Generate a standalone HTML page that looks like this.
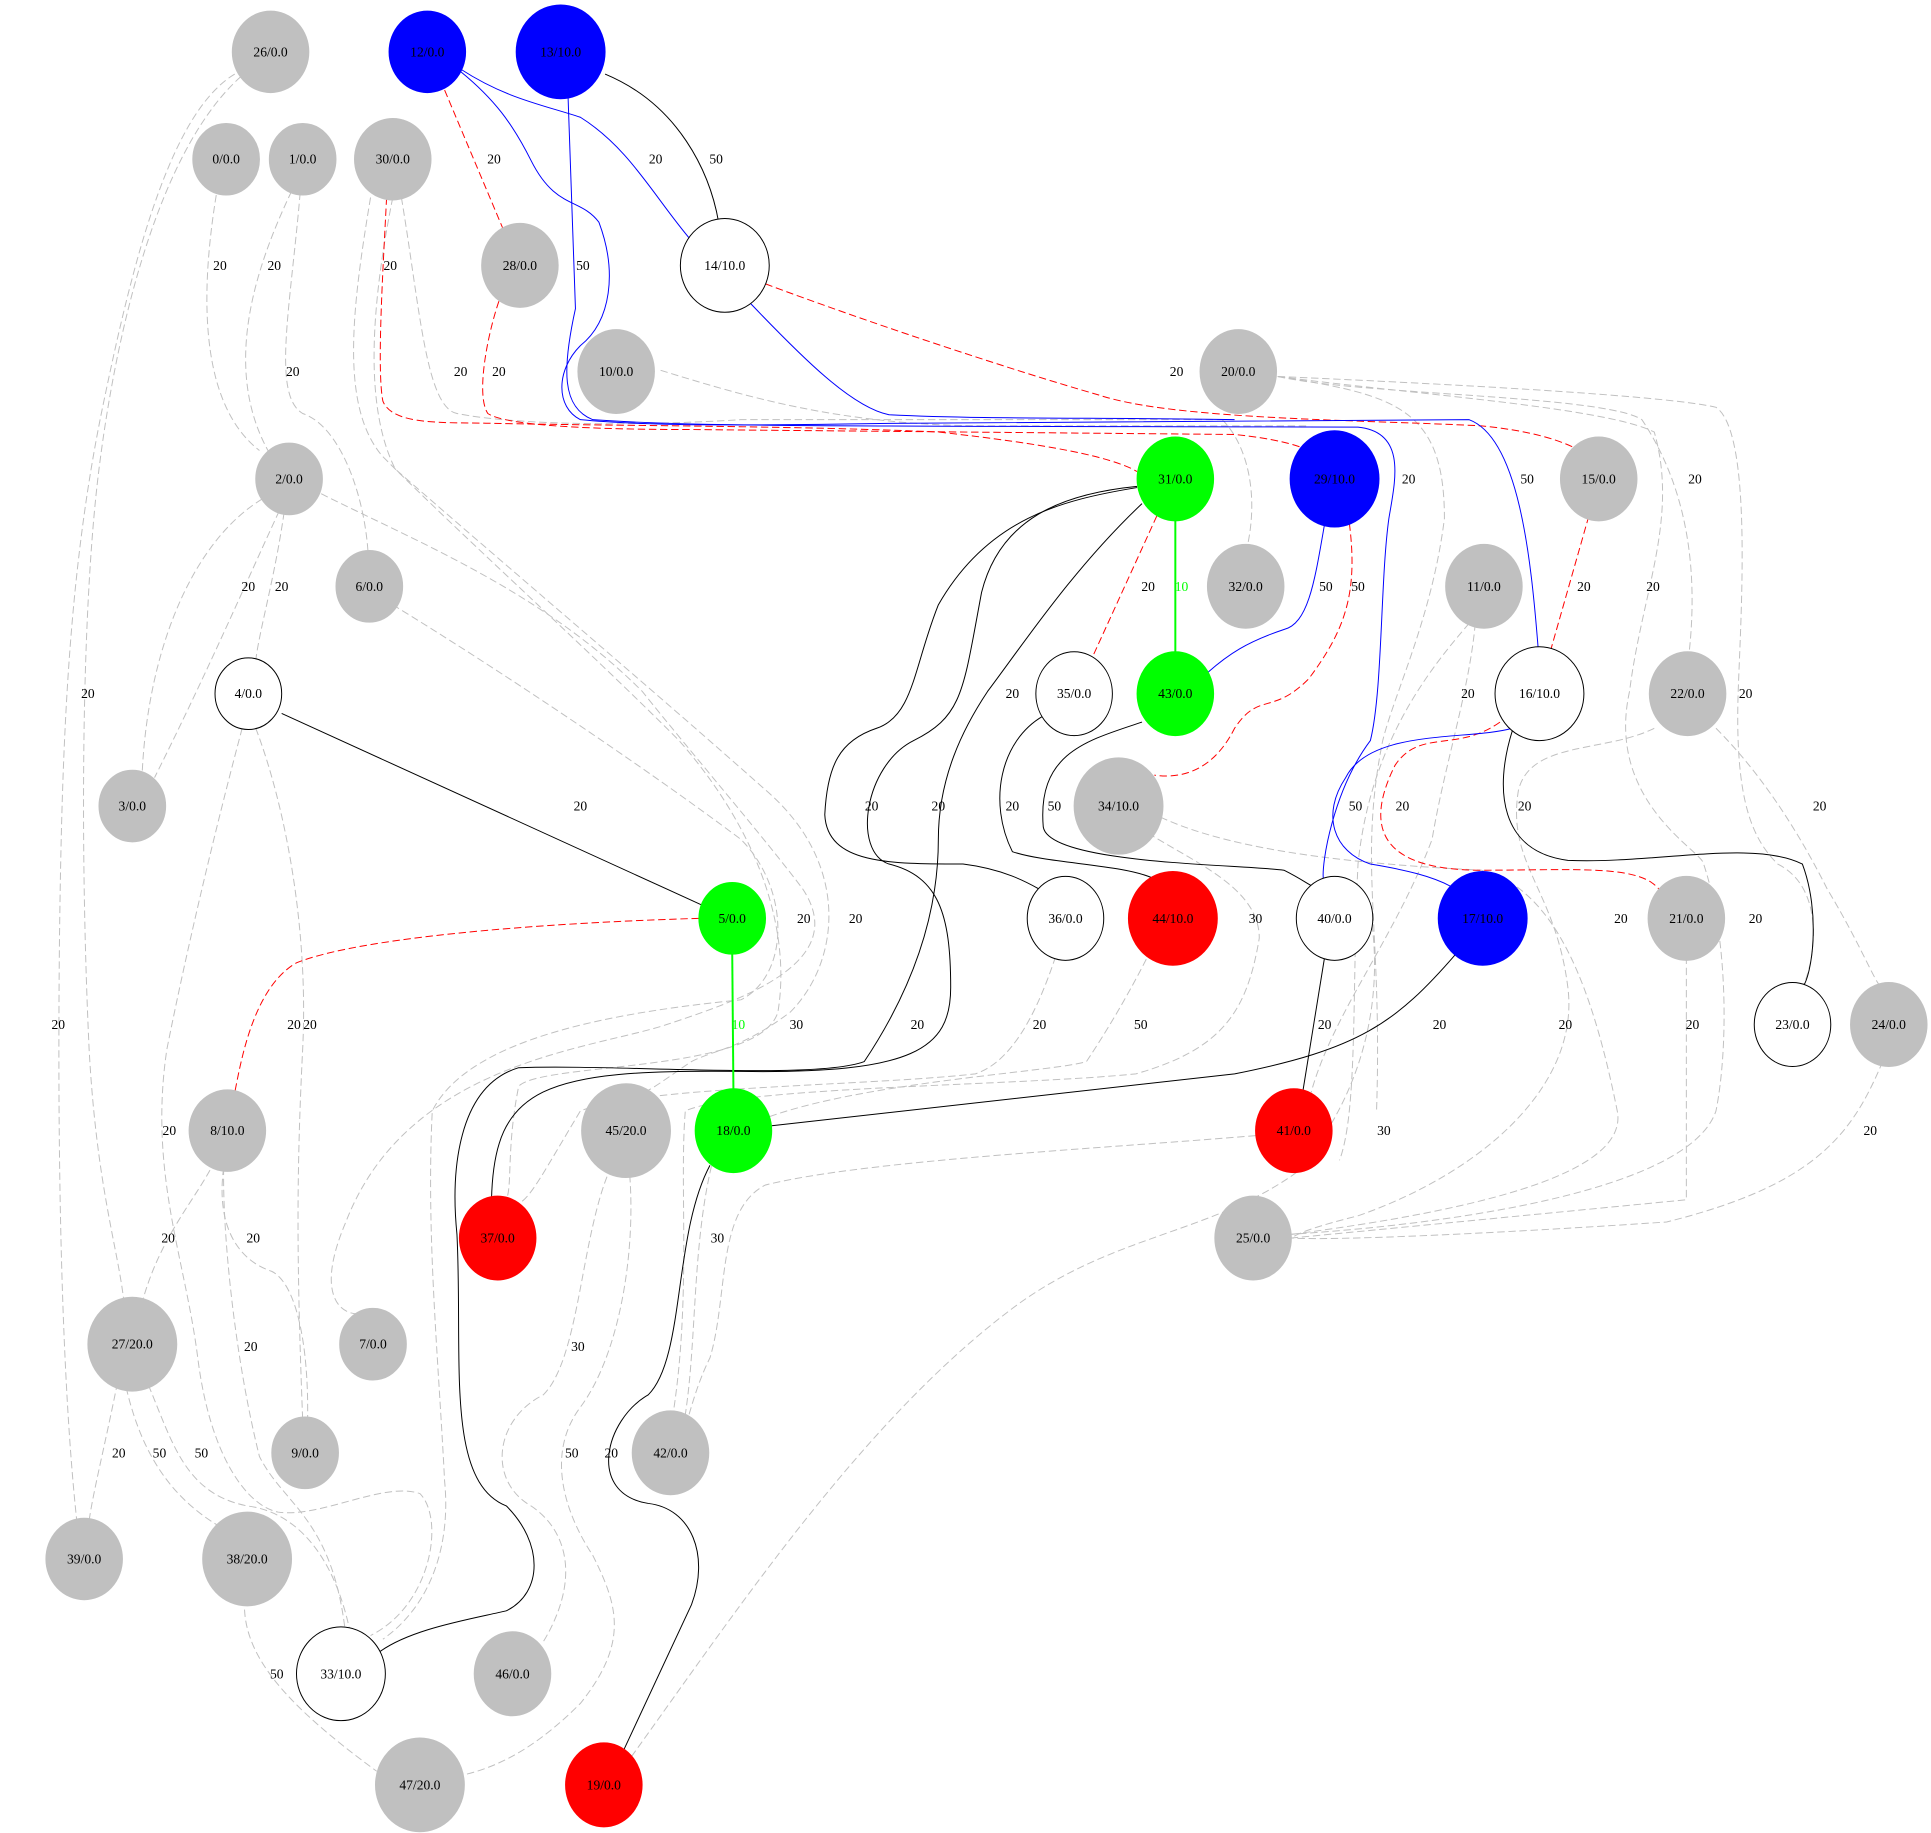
<!DOCTYPE html>
<html><head><meta charset="utf-8"><style>html,body{margin:0;padding:0;background:#fff}svg{display:block}</style></head>
<body>
<svg width="1931" height="1833" viewBox="0 0 1564 1485" xmlns="http://www.w3.org/2000/svg" font-family="Liberation Serif, serif" font-size="11">
<rect width="1564" height="1485" fill="#fff"/>
<g fill="none" stroke="#c0c0c0" stroke-width="0.8" stroke-dasharray="6,3">
<path d="M190,60 C140,90 110,200 85,320 C55,460 50,600 48,760 C46,950 50,1120 62,1232"/>
<path d="M195,62 C130,120 95,260 80,380 C65,500 65,700 72,850 C78,960 95,1010 100,1053"/>
<path d="M175,158 C160,250 165,330 210,365"/>
<path d="M236,155 C205,220 180,300 218,367"/>
<path d="M243,156 C235,250 220,320 245,335 C275,345 295,400 298,448"/>
<path d="M300,160 C285,250 275,330 310,370 C380,440 470,520 550,600 C620,680 640,760 630,820 C615,870 440,860 420,880 C410,930 415,960 410,972"/>
<path d="M325,160 C340,250 345,330 370,335 C420,345 520,345 600,340 L990,340"/>
<path d="M318,160 C300,250 295,330 320,380 C400,450 530,560 620,640 C690,700 680,780 640,820 C600,850 580,850 560,860 C530,880 520,890 515,882"/>
<path d="M260,400 C340,440 440,480 520,560 C560,610 620,680 650,720 C690,780 600,810 540,830 C480,850 330,860 280,990 C250,1060 285,1070 298,1062"/>
<path d="M220,400 C160,430 120,520 115,626"/>
<path d="M226,414 C200,470 170,540 125,630"/>
<path d="M230,415 C222,470 210,510 207,535"/>
<path d="M318,490 C400,540 520,620 600,680 C640,720 640,790 600,810 C500,820 380,840 350,900 C345,1000 355,1100 360,1200 C365,1250 350,1300 310,1328"/>
<path d="M196,590 C180,650 155,750 135,850 C120,950 150,1020 160,1100 C170,1180 200,1220 225,1225 C260,1230 310,1200 340,1210 C360,1230 350,1300 300,1325"/>
<path d="M207,590 C230,650 250,750 245,850 C240,950 240,1020 245,1150"/>
<path d="M174,940 C160,970 130,1000 115,1055"/>
<path d="M181,946 C175,990 190,1020 220,1030 C240,1040 250,1090 249,1150"/>
<path d="M181,946 C180,1000 190,1100 210,1180 C230,1220 270,1230 280,1326"/>
<path d="M95,1120 C85,1170 75,1210 72,1232"/>
<path d="M102,1124 C115,1180 140,1215 180,1238"/>
<path d="M120,1122 C140,1170 150,1210 200,1220 C240,1225 270,1260 283,1320"/>
<path d="M198,1295 C195,1340 230,1380 305,1435"/>
<path d="M495,945 C470,1000 470,1100 440,1130 C400,1150 395,1200 430,1220 C460,1240 470,1280 440,1330"/>
<path d="M510,952 C515,1020 500,1100 470,1140 C440,1180 460,1230 480,1260 C500,1300 510,1330 470,1380 C440,1410 410,1430 375,1438"/>
<path d="M535,300 C600,320 680,345 800,345 L1060,345"/>
<path d="M1035,305 C1100,320 1300,320 1330,340 C1370,400 1375,470 1368,531"/>
<path d="M1035,305 C1150,310 1350,320 1390,330 C1420,350 1410,500 1408,560 C1405,650 1420,680 1440,700 C1480,720 1470,780 1460,800"/>
<path d="M1035,305 C1150,320 1300,330 1340,350 C1360,420 1330,480 1320,560 C1300,650 1380,690 1380,700 C1400,760 1400,850 1390,900 C1370,960 1200,990 1045,1000"/>
<path d="M1035,305 C1130,320 1170,330 1170,420 C1160,500 1130,560 1120,600 C1100,700 1120,750 1115,900"/>
<path d="M990,340 C1010,360 1020,400 1010,444"/>
<path d="M1190,505 C1160,540 1110,600 1100,700 C1095,800 1100,900 1085,940"/>
<path d="M1195,505 C1190,560 1170,620 1160,680 C1130,760 1080,820 1062,885"/>
<path d="M1340,590 C1300,610 1240,600 1230,640 C1220,700 1260,720 1270,800 C1280,880 1200,950 1100,985 C1060,995 1050,1000 1046,1003"/>
<path d="M1390,590 C1430,630 1460,680 1480,720 C1510,770 1520,800 1525,800"/>
<path d="M1525,860 C1500,920 1470,960 1350,990 C1200,1000 1080,1005 1046,1003"/>
<path d="M1366,775 L1366,972 L1046,1003"/>
<path d="M940,662 C1000,690 1100,700 1200,705 C1260,720 1290,800 1310,900 C1320,950 1200,980 1046,1000"/>
<path d="M930,675 C970,700 1020,720 1020,760 C1010,820 990,850 920,870 C820,880 600,880 555,900 C550,960 560,1050 545,1146"/>
<path d="M955,720 C930,780 900,830 880,860 C850,870 620,880 580,930 C560,1000 565,1080 555,1146"/>
<path d="M855,775 C840,820 820,860 790,870 C700,880 520,880 470,900 C440,950 430,970 420,975"/>
<path d="M1017,920 C900,930 700,940 620,960 C580,980 590,1050 575,1100 C565,1120 560,1140 558,1146"/>
<path d="M1110,740 C1120,800 1110,880 1050,950 C980,1000 900,1000 820,1060 C700,1150 600,1300 510,1425"/>
</g>
<g fill="none" stroke="#ff0000" stroke-width="0.8" stroke-dasharray="6,3">
<path d="M360,73 L408,187"/>
<path d="M313,160 C310,220 305,300 310,325 C318,345 360,342 400,343 C500,345 650,345 760,350 C850,360 900,370 921,382"/>
<path d="M404,244 C395,270 385,320 395,335 C410,345 480,348 560,348 L1000,352 C1030,355 1050,360 1060,365"/>
<path d="M620,230 C700,260 820,300 890,320 C950,340 1100,340 1200,345 C1250,350 1270,360 1280,365"/>
<path d="M1287,418 L1256,527"/>
<path d="M937,418 L885,532"/>
<path d="M1093,424 C1100,480 1090,510 1060,550 C1030,580 1020,560 1000,590 C980,630 950,630 935,628"/>
<path d="M1215,585 C1180,610 1150,590 1130,620 C1100,680 1130,705 1200,705 C1280,705 1330,700 1345,722"/>
<path d="M566,744 C430,748 290,760 240,780 C205,800 195,860 190,885"/>
</g>
<g fill="none" stroke="#0000ff" stroke-width="0.8">
<path d="M373,56 C410,80 440,85 470,95 C510,120 530,160 560,195"/>
<path d="M373,58 C400,80 415,100 430,130 C450,170 470,160 485,180 C500,220 495,260 470,280 C450,300 450,330 470,340 C520,345 600,345 720,343 L1190,340 C1230,355 1240,450 1246,526"/>
<path d="M460,78 L466,250 C455,300 455,330 480,340 C560,346 700,345 1100,346 C1140,350 1130,390 1125,420 C1118,470 1120,560 1110,600 C1080,640 1070,700 1072,713"/>
<path d="M608,246 C650,290 690,330 720,336 C800,340 900,338 1000,340"/>
<path d="M1073,424 C1065,470 1060,505 1040,510 C1010,520 995,530 978,545"/>
<path d="M1225,590 C1190,600 1110,590 1090,630 C1070,660 1080,690 1110,700 C1140,705 1160,710 1175,718"/>
</g>
<g fill="none" stroke="#000" stroke-width="0.8">
<path d="M490,60 C550,85 575,140 582,180"/>
<path d="M228,578 L568,733"/>
<path d="M921,395 C860,405 800,420 760,490 C740,540 740,580 710,590 C680,600 670,620 668,660 C670,700 720,700 780,700 C820,705 840,720 845,722"/>
<path d="M921,394 C860,400 810,420 795,480 C780,560 780,580 740,600 C700,620 690,690 720,700 C760,710 770,740 770,800 C770,850 740,870 600,868 C440,866 400,880 398,972"/>
<path d="M925,408 C870,460 830,520 800,560 C780,590 760,630 760,680 C760,740 740,800 700,860 C660,875 500,862 420,865 C370,880 365,950 370,1000 C375,1100 360,1200 410,1220 C440,1250 440,1290 410,1305 C380,1312 330,1320 305,1340"/>
<path d="M845,580 C810,600 800,650 820,690 C850,700 910,700 935,712"/>
<path d="M925,585 C880,600 840,610 845,670 C850,700 1000,700 1040,705 C1060,715 1063,720 1065,717"/>
<path d="M1225,592 C1210,640 1215,690 1270,697 C1340,700 1420,680 1460,700 C1475,740 1468,790 1460,800"/>
<path d="M1073,775 L1055,886"/>
<path d="M1180,772 C1130,830 1100,850 1000,870 L625,912"/>
<path d="M575,944 C545,1000 555,1100 525,1130 C490,1150 475,1210 525,1218 C560,1222 575,1260 560,1300 L505,1418"/>
</g>
<g stroke="#00ff00" stroke-width="1.6"><line x1="952" y1="419" x2="952" y2="531"/><line x1="593" y1="771" x2="594" y2="885"/></g>
<g stroke="#000" stroke-width="0.8">
<ellipse cx="219" cy="42" rx="31" ry="33" fill="#c0c0c0" stroke="#c0c0c0"/>
<ellipse cx="346" cy="42" rx="31" ry="33" fill="#0000ff" stroke="#0000ff"/>
<ellipse cx="454" cy="42" rx="36" ry="38" fill="#0000ff" stroke="#0000ff"/>
<ellipse cx="183" cy="129" rx="27" ry="29" fill="#c0c0c0" stroke="#c0c0c0"/>
<ellipse cx="245" cy="129" rx="27" ry="29" fill="#c0c0c0" stroke="#c0c0c0"/>
<ellipse cx="318" cy="129" rx="31" ry="33" fill="#c0c0c0" stroke="#c0c0c0"/>
<ellipse cx="421" cy="215" rx="31" ry="34" fill="#c0c0c0" stroke="#c0c0c0"/>
<ellipse cx="587" cy="215" rx="36" ry="38" fill="#fff"/>
<ellipse cx="499" cy="301" rx="31" ry="34" fill="#c0c0c0" stroke="#c0c0c0"/>
<ellipse cx="1003" cy="301" rx="31" ry="34" fill="#c0c0c0" stroke="#c0c0c0"/>
<ellipse cx="234" cy="388" rx="27" ry="29" fill="#c0c0c0" stroke="#c0c0c0"/>
<ellipse cx="952" cy="388" rx="31" ry="34" fill="#00ff00" stroke="#00ff00"/>
<ellipse cx="1081" cy="388" rx="36" ry="39" fill="#0000ff" stroke="#0000ff"/>
<ellipse cx="1295" cy="388" rx="31" ry="34" fill="#c0c0c0" stroke="#c0c0c0"/>
<ellipse cx="299" cy="475" rx="27" ry="29" fill="#c0c0c0" stroke="#c0c0c0"/>
<ellipse cx="1009" cy="475" rx="31" ry="34" fill="#c0c0c0" stroke="#c0c0c0"/>
<ellipse cx="1202" cy="475" rx="31" ry="34" fill="#c0c0c0" stroke="#c0c0c0"/>
<ellipse cx="201" cy="562" rx="27" ry="29" fill="#fff"/>
<ellipse cx="870" cy="562" rx="31" ry="34" fill="#fff"/>
<ellipse cx="952" cy="562" rx="31" ry="34" fill="#00ff00" stroke="#00ff00"/>
<ellipse cx="1247" cy="562" rx="36" ry="38" fill="#fff"/>
<ellipse cx="1367" cy="562" rx="31" ry="34" fill="#c0c0c0" stroke="#c0c0c0"/>
<ellipse cx="107" cy="653" rx="27" ry="29" fill="#c0c0c0" stroke="#c0c0c0"/>
<ellipse cx="906" cy="653" rx="36" ry="39" fill="#c0c0c0" stroke="#c0c0c0"/>
<ellipse cx="593" cy="744" rx="27" ry="29" fill="#00ff00" stroke="#00ff00"/>
<ellipse cx="863" cy="744" rx="31" ry="34" fill="#fff"/>
<ellipse cx="950" cy="744" rx="36" ry="38" fill="#ff0000" stroke="#ff0000"/>
<ellipse cx="1081" cy="744" rx="31" ry="34" fill="#fff"/>
<ellipse cx="1201" cy="744" rx="36" ry="38" fill="#0000ff" stroke="#0000ff"/>
<ellipse cx="1366" cy="744" rx="31" ry="34" fill="#c0c0c0" stroke="#c0c0c0"/>
<ellipse cx="1452" cy="830" rx="31" ry="34" fill="#fff"/>
<ellipse cx="1530" cy="830" rx="31" ry="34" fill="#c0c0c0" stroke="#c0c0c0"/>
<ellipse cx="184" cy="916" rx="31" ry="33" fill="#c0c0c0" stroke="#c0c0c0"/>
<ellipse cx="507" cy="916" rx="36" ry="38" fill="#c0c0c0" stroke="#c0c0c0"/>
<ellipse cx="594" cy="916" rx="31" ry="34" fill="#00ff00" stroke="#00ff00"/>
<ellipse cx="1048" cy="916" rx="31" ry="34" fill="#ff0000" stroke="#ff0000"/>
<ellipse cx="403" cy="1003" rx="31" ry="34" fill="#ff0000" stroke="#ff0000"/>
<ellipse cx="1015" cy="1003" rx="31" ry="34" fill="#c0c0c0" stroke="#c0c0c0"/>
<ellipse cx="107" cy="1089" rx="36" ry="38" fill="#c0c0c0" stroke="#c0c0c0"/>
<ellipse cx="302" cy="1089" rx="27" ry="29" fill="#c0c0c0" stroke="#c0c0c0"/>
<ellipse cx="247" cy="1177" rx="27" ry="29" fill="#c0c0c0" stroke="#c0c0c0"/>
<ellipse cx="543" cy="1177" rx="31" ry="34" fill="#c0c0c0" stroke="#c0c0c0"/>
<ellipse cx="68" cy="1263" rx="31" ry="33" fill="#c0c0c0" stroke="#c0c0c0"/>
<ellipse cx="200" cy="1263" rx="36" ry="38" fill="#c0c0c0" stroke="#c0c0c0"/>
<ellipse cx="276" cy="1356" rx="36" ry="38" fill="#fff"/>
<ellipse cx="415" cy="1356" rx="31" ry="34" fill="#c0c0c0" stroke="#c0c0c0"/>
<ellipse cx="340" cy="1446" rx="36" ry="38" fill="#c0c0c0" stroke="#c0c0c0"/>
<ellipse cx="489" cy="1446" rx="31" ry="34" fill="#ff0000" stroke="#ff0000"/>
</g>
<g text-anchor="middle" dominant-baseline="central" fill="#000">
<text x="219" y="42">26/0.0</text><text x="346" y="42">12/0.0</text><text x="454" y="42">13/10.0</text>
<text x="183" y="129">0/0.0</text><text x="245" y="129">1/0.0</text><text x="318" y="129">30/0.0</text>
<text x="421" y="215">28/0.0</text><text x="587" y="215">14/10.0</text><text x="499" y="301">10/0.0</text>
<text x="1003" y="301">20/0.0</text><text x="234" y="388">2/0.0</text><text x="952" y="388">31/0.0</text>
<text x="1081" y="388">29/10.0</text><text x="1295" y="388">15/0.0</text><text x="299" y="475">6/0.0</text>
<text x="1009" y="475">32/0.0</text><text x="1202" y="475">11/0.0</text><text x="201" y="562">4/0.0</text>
<text x="870" y="562">35/0.0</text><text x="952" y="562">43/0.0</text><text x="1247" y="562">16/10.0</text>
<text x="1367" y="562">22/0.0</text><text x="107" y="653">3/0.0</text><text x="906" y="653">34/10.0</text>
<text x="593" y="744">5/0.0</text><text x="863" y="744">36/0.0</text><text x="950" y="744">44/10.0</text>
<text x="1081" y="744">40/0.0</text><text x="1201" y="744">17/10.0</text><text x="1366" y="744">21/0.0</text>
<text x="1452" y="830">23/0.0</text><text x="1530" y="830">24/0.0</text><text x="184" y="916">8/10.0</text>
<text x="507" y="916">45/20.0</text><text x="594" y="916">18/0.0</text><text x="1048" y="916">41/0.0</text>
<text x="403" y="1003">37/0.0</text><text x="1015" y="1003">25/0.0</text><text x="107" y="1089">27/20.0</text>
<text x="302" y="1089">7/0.0</text><text x="247" y="1177">9/0.0</text><text x="543" y="1177">42/0.0</text>
<text x="68" y="1263">39/0.0</text><text x="200" y="1263">38/20.0</text><text x="276" y="1356">33/10.0</text>
<text x="415" y="1356">46/0.0</text><text x="340" y="1446">47/20.0</text><text x="489" y="1446">19/0.0</text>
</g>
<g text-anchor="middle" dominant-baseline="central" fill="#000">
<text x="400" y="129">20</text><text x="531" y="129">20</text><text x="580" y="129">50</text>
<text x="178" y="215">20</text><text x="222" y="215">20</text><text x="316" y="215">20</text><text x="472" y="215">50</text>
<text x="237" y="301">20</text><text x="373" y="301">20</text><text x="404" y="301">20</text><text x="953" y="301">20</text>
<text x="1141" y="388">20</text><text x="1237" y="388">50</text><text x="1373" y="388">20</text>
<text x="201" y="475">20</text><text x="228" y="475">20</text><text x="930" y="475">20</text><text x="1074" y="475">50</text><text x="1100" y="475">50</text><text x="1283" y="475">20</text><text x="1339" y="475">20</text>
<text x="71" y="562">20</text><text x="820" y="562">20</text><text x="1189" y="562">20</text><text x="1414" y="562">20</text>
<text x="470" y="653">20</text><text x="706" y="653">20</text><text x="760" y="653">20</text><text x="820" y="653">20</text><text x="854" y="653">50</text><text x="1098" y="653">50</text><text x="1136" y="653">20</text><text x="1235" y="653">20</text><text x="1474" y="653">20</text>
<text x="651" y="744">20</text><text x="693" y="744">20</text><text x="1017" y="744">30</text><text x="1313" y="744">20</text><text x="1422" y="744">20</text>
<text x="47" y="830">20</text><text x="238" y="830">20</text><text x="251" y="830">20</text><text x="645" y="830">30</text><text x="743" y="830">20</text><text x="842" y="830">20</text><text x="924" y="830">50</text><text x="1073" y="830">20</text><text x="1166" y="830">20</text><text x="1268" y="830">20</text><text x="1371" y="830">20</text>
<text x="137" y="916">20</text><text x="1121" y="916">30</text><text x="1515" y="916">20</text>
<text x="136" y="1003">20</text><text x="205" y="1003">20</text><text x="581" y="1003">30</text>
<text x="203" y="1091">20</text><text x="468" y="1091">30</text>
<text x="96" y="1177">20</text><text x="129" y="1177">50</text><text x="163" y="1177">50</text><text x="463" y="1177">50</text><text x="495" y="1177">20</text>
<text x="224" y="1356">50</text>
<text x="957" y="475" fill="#00ff00">10</text><text x="598" y="830" fill="#00ff00">10</text>
</g>
</svg>
</body></html>
